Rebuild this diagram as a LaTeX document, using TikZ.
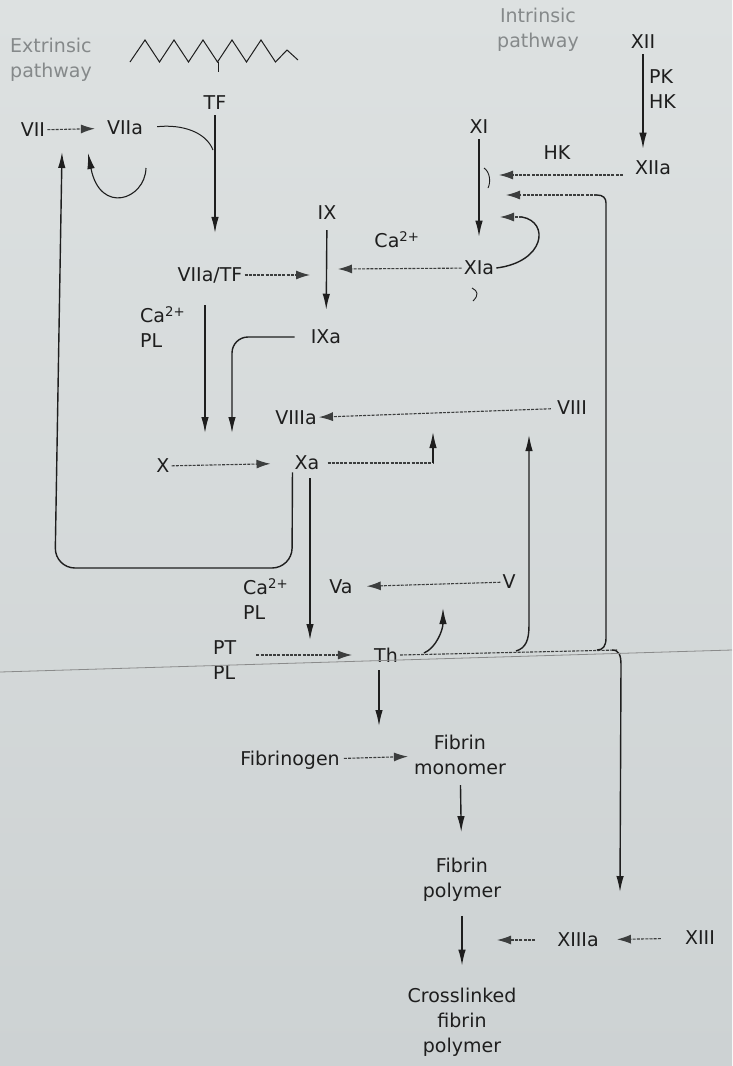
\documentclass[tikz,border=0pt]{standalone}
\usepackage{fontspec}
\setmainfont{DejaVu Sans}
\usepackage{tikz}
\usetikzlibrary{positioning, arrows.meta}
\usepackage{xcolor}
\definecolor{PaperTop}{HTML}{DDE1E1}
\definecolor{PaperLow}{HTML}{CDD2D3}
\definecolor{InkDark}{HTML}{1E1E1E}
\definecolor{InkDash}{HTML}{3C3E3E}
\definecolor{InkFaint}{HTML}{85898A}

\begin{document}
\begin{tikzpicture}[x=1pt, y=-1pt,
    every node/.style={font=\fontsize{19}{25}\selectfont, text=InkDark, inner sep=2pt, align=center},
    faint/.style={text=InkFaint},
    link/.style={line width=1.4pt, InkDark},
    arr/.style={link, -{Latex[length=16pt,width=7.5pt]}},
    dashline/.style={line width=1.1pt, InkDash, dash pattern=on 3pt off 1.2pt},
    dasharr/.style={dashline, -{Latex[length=14pt,width=9pt]}}]
      % Paper (photo background)
      \shade[top color=PaperTop, bottom color=PaperLow] (0,0) rectangle (732,1066);
      \useasboundingbox (0,0) rectangle (732,1066);
      % Pathway headings
      \node[faint, anchor=west, align=left] (extr) at (8,60) {Extrinsic\\pathway};
      \node[faint] (intr) at (538,30) {Intrinsic\\pathway};
      % Cell membrane (zigzag) with tissue factor
      \draw[link, line width=1pt] (130,62)
        foreach \i in {0,...,4} { -- ({145+29*\i},40) -- ({159.5+29*\i},62) }
        -- (287,50) -- (298,60);
      \draw[link, line width=1pt] (218,62) -- (218,72);
      % Factors
      \node (xii) at (643,42) {XII};
      \node[anchor=west, align=left] (pkhk) at (647,89) {PK\\HK};
      \node (xiia) at (653,168) {XIIa};
      \node (hk) at (557,153) {HK};
      \node (xi) at (479,127) {XI};
      \node (xia) at (479,268) {XIa};
      \node (caxia) at (397,240) {Ca\textsuperscript{2+}};
      \node (ix) at (327,213) {IX};
      \node (ixa) at (326,337) {IXa};
      \node (tf) at (215,103) {TF};
      \node (vii) at (33,130) {VII};
      \node (viia) at (125,128) {VIIa};
      \node (viiatf) at (210,275) {VIIa/TF};
      \node[anchor=west, align=left] (caplx) at (138,327) {Ca\textsuperscript{2+}\\PL};
      \node (viiia) at (296,418) {VIIIa};
      \node (viii) at (572,408) {VIII};
      \node (xx) at (163,466) {X};
      \node (xa) at (307,463) {Xa};
      \node[anchor=west, align=left] (caplth) at (241,599) {Ca\textsuperscript{2+}\\PL};
      \node (va) at (341,587) {Va};
      \node (vv) at (509,582) {V};
      \node[anchor=west, align=left] (ptpl) at (211,660) {PT\\PL};
      \node (th) at (386,655) {Th};
      \node (fbgn) at (290,760) {Fibrinogen};
      \node (fmono) at (460,755) {Fibrin\\monomer};
      \node (fpoly) at (462,880) {Fibrin\\polymer};
      \node (xiiia) at (578,940) {XIIIa};
      \node (xiii) at (700,938) {XIII};
      \node (cross) at (462,1022) {Crosslinked\\fibrin\\polymer};
      % Points on the reaction arrows
      \coordinate (onxi) at (499,175);
      \coordinate (onxib) at (506,195);
      \coordinate (onxic) at (500,217);
      \coordinate (onix) at (338,269);
      \coordinate (onixb) at (312,275);
      \coordinate (tfjoin) at (213,150);
      \coordinate (onvii) at (88,153);
      \coordinate (onviib) at (62,152);
      \coordinate (onxa) at (205,433);
      \coordinate (onxb) at (232,433);
      \coordinate (onviii) at (433,432);
      \coordinate (onviiib) at (529,435);
      \coordinate (onth) at (310,640);
      \coordinate (onv) at (443,608);
      \coordinate (onfib) at (379,726);
      \coordinate (onxiii) at (620,892);
      \coordinate (onpoly) at (497,940);
      % Intrinsic pathway
      \draw[arr, shorten <=3pt, shorten >=10pt] (xii) -- (xii |- xiia.north);
      \draw[dasharr, shorten <=10pt] (xiia.west |- onxi) -- (onxi);
      \draw[arr, shorten <=3pt, shorten >=22pt] (xi) -- (xia);
      \draw[link, line width=0.9pt] (484,168) .. controls (490,172) and (491,182) .. (488,188);
      \draw[link] (xia.east) .. controls (545,262) and (550,222) .. (522,217);
      \draw[dasharr] (522,217) -- (onxic);
      \draw[dasharr] (xia) -- (onix);
      \draw[link, line width=0.9pt] (472,288) .. controls (478,291) and (479,295) .. (473,301);
      \draw[arr, shorten <=8pt, shorten >=18pt] (ix) -- (ixa);
      % Extrinsic pathway
      \draw[arr, shorten <=3pt, shorten >=32pt] (tf) -- (tf |- viiatf.north);
      \draw[link, line width=1pt, shorten <=12pt] (viia.east) .. controls (182,124) and (206,132) .. (tfjoin);
      \draw[dasharr, shorten >=10pt] (vii) -- (viia);
      \draw[arr, line width=1.1pt] (146,168) .. controls (145,200) and (100,215) .. (onvii);
      \draw[dasharr, shorten >=2pt] (viiatf) -- (onixb);
      % Common pathway
      \draw[arr, shorten <=20pt] (viiatf.south -| onxa) -- (onxa);
      \draw[arr, rounded corners=16pt, shorten <=14pt] (ixa.west) -- (ixa.west -| onxb) -- (onxb);
      \draw[dasharr, shorten >=22pt] (xx) -- (xa);
      \draw[dasharr, shorten <=4pt] (viii) -- (viiia);
      \draw[dashline, shorten <=6pt] (xa) -- (xa -| onviii);
      \draw[arr] (xa -| onviii) -- (onviii);
      \draw[arr, rounded corners=20pt] (xa.south west) -- (292,568) -- (55,568) -- (onviib);
      \draw[arr, shorten <=6pt] (xa.south -| onth) -- (onth);
      \draw[dasharr, shorten >=12pt] (vv) -- (va);
      \draw[dasharr, shorten <=18pt, shorten >=20pt] (ptpl.east |- th) -- (th);
      % Thrombin feedback
      \draw[dashline] (th.east) -- (618,650);
      \draw[arr] (424,653) .. controls (436,648) and (443,630) .. (onv);
      \draw[arr] (516,651) .. controls (526,648) and (529,640) .. (529,625) -- (onviiib);
      \draw[link] (597,650) .. controls (603,650) and (606,646) .. (606,638) -- (606,203)
        .. controls (606,198) and (603,195) .. (597,195);
      \draw[dasharr] (597,195) -- (onxib);
      \draw[arr] (612,650) .. controls (619,650) and (621,655) .. (621,665) -- (onxiii);
      % Fibrin formation
      \draw[arr, shorten <=6pt] (th.south -| onfib) -- (onfib);
      \draw[dasharr, shorten <=2pt, shorten >=4pt] (fbgn) -- (fmono);
      \draw[arr, shorten <=8pt, shorten >=24pt] (fmono) -- (fpoly);
      \draw[arr, shorten <=12pt, shorten >=20pt] (fpoly) -- (cross);
      \draw[dasharr, shorten <=20pt] (xiiia) -- (onpoly);
      \draw[dasharr, shorten <=22pt, shorten >=16pt] (xiii) -- (xiiia);
      % Page line
      \draw[InkDash!60, line width=0.8pt] (0,672) -- (732,650);
\end{tikzpicture}
\end{document}
